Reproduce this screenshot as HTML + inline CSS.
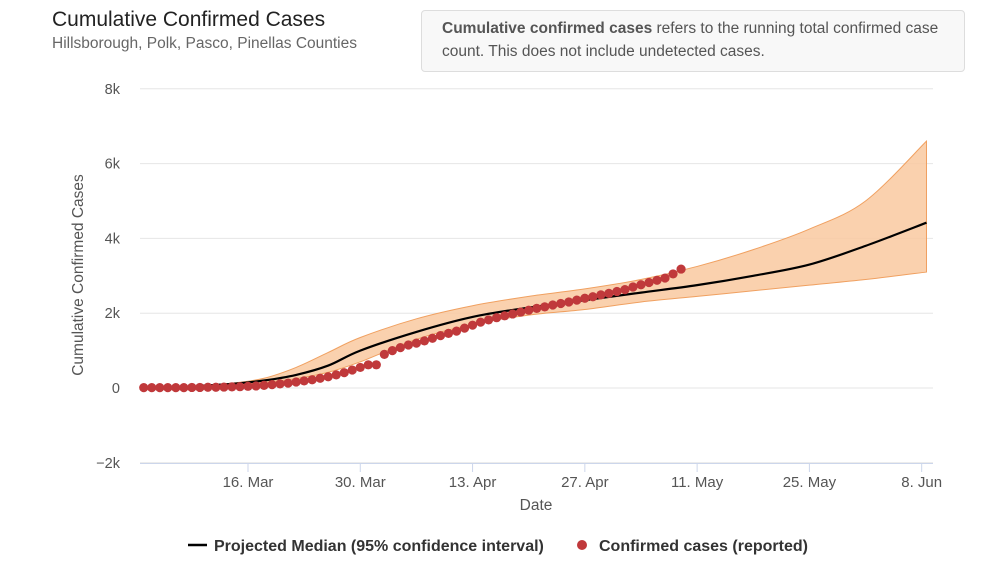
<!DOCTYPE html>
<html><head><meta charset="utf-8"><style>
body{margin:0;width:1000px;height:562px;background:#fff;font-family:"Liberation Sans",sans-serif;overflow:hidden;position:relative}
#title{position:absolute;left:52px;top:8px;font-size:21px;color:#222}
#sub{position:absolute;left:52px;top:35px;font-size:15.5px;color:#666}
#note{position:absolute;left:421px;top:10px;width:526px;height:48px;border:1px solid #ddd;border-radius:4px;background:#f8f8f8;padding:6px 20px;font-size:15.5px;line-height:23px;color:#555;box-sizing:content-box;width:502px}
svg{position:absolute;left:0;top:0}
</style></head><body>
<div id="title">Cumulative Confirmed Cases</div>
<div id="sub">Hillsborough, Polk, Pasco, Pinellas Counties</div>
<div id="note"><b>Cumulative confirmed cases</b> refers to the running total confirmed case count. This does not include undetected cases.</div>
<svg id="chart" width="1000" height="562"></svg>
<script>
// day offsets relative to 16 Mar
const dotValues=[10,10,10,10,10,10,15,15,20,20,25,30,35,45,55,70,90,110,130,160,190,220,260,300,350,410,480,550,620,620,900,1000,1080,1150,1200,1260,1330,1400,1460,1520,1600,1680,1760,1820,1880,1930,1980,2030,2080,2130,2170,2220,2260,2300,2350,2400,2440,2490,2530,2580,2630,2700,2760,2820,2880,2940,3050,3180];
const dotStart=-13;
const bandDays=[-6,-2,2,6,10,14,21,28,35,42,49,56,63,70,77,84.6];
const medianVals=[60,110,200,350,600,1000,1500,1900,2150,2350,2550,2750,3000,3300,3800,4420];
const upperVals=[70,130,260,550,950,1350,1850,2200,2450,2650,2900,3250,3700,4250,5000,6600];
const lowerVals=[50,90,150,250,420,700,1300,1700,1950,2100,2300,2450,2600,2750,2900,3100];
const yTicks=[-2000,0,2000,4000,6000,8000];
const yTickLabels=["−2k","0","2k","4k","6k","8k"];
const xTicks=[0,14,28,42,56,70,84];
const xTickLabels=["16. Mar","30. Mar","13. Apr","27. Apr","11. May","25. May","8. Jun"];
const NS="http://www.w3.org/2000/svg",svg=document.getElementById('chart');
const x=d=>248+d*8.02, y=v=>388-v*0.0374;
function mk(t,a,p){const e=document.createElementNS(NS,t);for(const k in a)e.setAttribute(k,a[k]);(p||svg).appendChild(e);return e;}
yTicks.forEach((v,i)=>{
 const g=mk('line',{x1:140,x2:933,y1:y(v),y2:y(v),stroke:'#e6e6e6'});
 
 
 const t=mk('text',{x:120,y:y(v)+5,'text-anchor':'end','font-size':14.5,fill:'#555'});t.textContent=yTickLabels[i];
 
 
});
mk('line',{x1:140,x2:933,y1:463.5,y2:463.5,stroke:'#ccd6eb'});
xTicks.forEach((d,i)=>{
 mk('line',{x1:x(d),x2:x(d),y1:463,y2:472,stroke:'#ccd6eb'});
 const t=mk('text',{x:x(d),y:487,'text-anchor':'middle','font-size':15,fill:'#555'});t.textContent=xTickLabels[i];
 
 
});
const xt=mk('text',{x:536,y:510,'text-anchor':'middle','font-size':15.5,fill:'#555'});xt.textContent='Date';


const yt=mk('text',{x:0,y:0,'text-anchor':'middle','font-size':15.5,fill:'#555',transform:'translate(83,275) rotate(-90)'});yt.textContent='Cumulative Confirmed Cases';


function smooth(pts){let d='M'+pts[0][0]+','+pts[0][1];for(let i=0;i<pts.length-1;i++){const p0=pts[i-1]||pts[i],p1=pts[i],p2=pts[i+1],p3=pts[i+2]||p2;d+=' C'+(p1[0]+(p2[0]-p0[0])/6)+','+(p1[1]+(p2[1]-p0[1])/6)+' '+(p2[0]-(p3[0]-p1[0])/6)+','+(p2[1]-(p3[1]-p1[1])/6)+' '+p2[0]+','+p2[1];}return d;}
const up=bandDays.map((d,i)=>[x(d),y(upperVals[i])]),lo=bandDays.map((d,i)=>[x(d),y(lowerVals[i])]).reverse();
const band=mk('path',{d:smooth(up)+' L'+smooth(lo).slice(1)+'Z',fill:'#f9c9a0','fill-opacity':0.85,stroke:'#f0a060','stroke-width':1});


const med=mk('path',{d:smooth(bandDays.map((d,i)=>[x(d),y(medianVals[i])])),fill:'none',stroke:'#000','stroke-width':2.2});


dotValues.forEach((v,i)=>{
 const c=mk('circle',{cx:x(dotStart+i),cy:y(v),r:4.6,fill:'#c0393b'});
 
 
});
const lg=mk('g',{});
mk('line',{x1:188,x2:207,y1:545,y2:545,stroke:'#000','stroke-width':2.5},lg);
const l1=mk('text',{x:214,y:551,'font-size':16,'font-weight':'bold',fill:'#333'},lg);l1.textContent='Projected Median (95% confidence interval)';


mk('circle',{cx:582,cy:545,r:5,fill:'#c0393b'},lg);
const l2=mk('text',{x:599,y:551,'font-size':16,'font-weight':'bold',fill:'#333'},lg);l2.textContent='Confirmed cases (reported)';


</script>
</body></html>
